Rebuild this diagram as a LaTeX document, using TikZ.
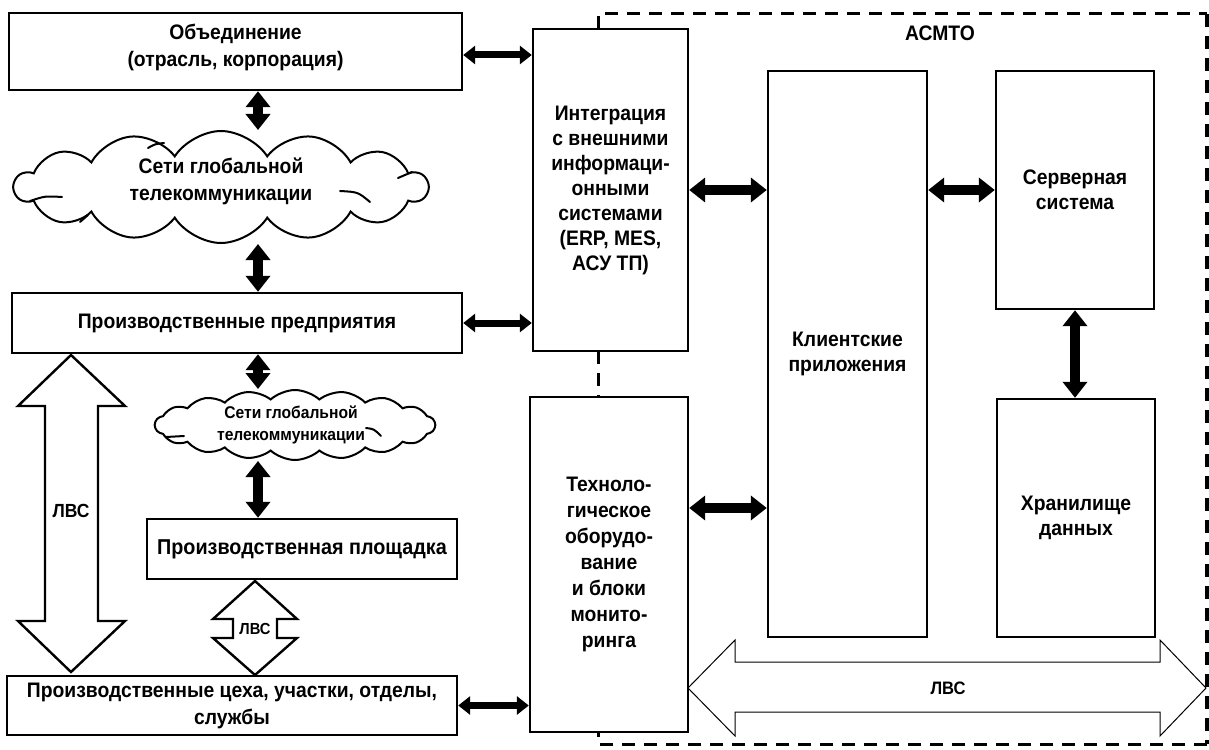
\documentclass[tikz,border=0pt]{standalone}
\usepackage{fontspec}
\setmainfont[FakeStretch=0.92]{Liberation Sans}
\usetikzlibrary{arrows.meta,shapes.symbols,calc}
\begin{document}
\begin{tikzpicture}[x=1pt,y=-1pt,
  box/.style={draw, line width=2.4pt, inner sep=0pt, align=center,
    font=\bfseries\fontsize{21}{25}\selectfont},
  txt/.style={inner sep=0pt, align=center, font=\bfseries\fontsize{21}{27}\selectfont},
  stxt/.style={inner sep=0pt, align=center, font=\bfseries\fontsize{17}{21.5}\selectfont},
  lbl/.style={inner sep=0pt, font=\bfseries\fontsize{19}{20}\selectfont},
  cloudbox/.style={cloud, draw, line width=2pt, cloud ignores aspect, inner sep=0pt},
  curl/.style={line width=2pt, line cap=round},
  bigdbl/.style={line width=10pt, {Triangle[width=24pt,length=16pt]}-{Triangle[width=24pt,length=16pt]}},
  smdbl/.style={line width=7pt, {Triangle[width=18pt,length=12pt]}-{Triangle[width=18pt,length=12pt]}},
  hollow/.style={draw, line width=2.4pt, fill=white, line join=miter},
  thinhollow/.style={draw, line width=1pt, fill=white, line join=miter},
  zone/.style={line width=3pt, dash pattern=on 13pt off 9pt},
  zoneR/.style={line width=4.5pt, dash pattern=on 13pt off 9pt}
]
\useasboundingbox (0,0) rectangle (1209,749);
\fill[white] (0,0) rectangle (1209,749);

% dashed ASMTO zone
\draw[zone] (598,29) -- (598,14) -- (1207,14);
\draw[zoneR] (1207,14) -- (1207,744);
\draw[zone] (1207,744) -- (598,744) -- (598,732);
\draw[zone] (598,351) -- (598,397);
\node[lbl, font=\bfseries\fontsize{21}{22}\selectfont] (asmto) at (940,33) {АСМТО};

% left boxes
\node[box, minimum width=453, minimum height=77] (obj) at (235.5,51.5) {};
\node[txt] (objt) at (235.5,47) {Объединение\\(отрасль, корпорация)};
\node[box, minimum width=450, minimum height=60] (pred) at (237,323)
  {Производственные предприятия};
\node[box, minimum width=310, minimum height=60, font=\bfseries\fontsize{21.5}{25}\selectfont] (plosh) at (302,549)
  {Производственная площадка};
\node[box, minimum width=450, minimum height=59, font=\bfseries\fontsize{21}{27}\selectfont] (tseh) at (232,705.5)
  {Производственные цеха, участки, отделы,\\службы};

% clouds
\node[cloudbox, cloud puffs=14, cloud puff arc=115, minimum width=413, minimum height=112] (cl1) at (221,187) {};
\node[txt] (cl1t) at (221,181) {Сети глобальной\\телекоммуникации};
\draw[curl] (30,201) .. controls (45,196) .. (62,197);
\draw[curl] (148,148) .. controls (155,144) .. (164,143);
\draw[curl] (340,191) .. controls (358,192) .. (370,202);
\draw[curl] (398,178) -- (412,172);
\draw[curl] (80,222) -- (88,215);

\node[cloudbox, cloud puffs=18, cloud puff arc=85, minimum width=280, minimum height=70] (cl2) at (295,425) {};
\node[stxt] (cl2t) at (291,425) {Сети глобальной\\телекоммуникации};
\draw[curl] (166,437) -- (184,436);
\draw[curl] (366,428) .. controls (374,429) .. (381,436);

% right boxes
\node[box, minimum width=155, minimum height=322] (integ) at (610.5,190)
  {Интеграция\\с внешними\\информаци-\\онными\\системами\\(ERP, MES,\\АСУ ТП)};
\node[box, minimum width=158, minimum height=335, font=\bfseries\fontsize{21}{26}\selectfont] (tech) at (609,564.5)
  {Техноло-\\гическое\\оборудо-\\вание\\и блоки\\монито-\\ринга};
\node[box, minimum width=159, minimum height=566] (client) at (847.5,354)
  {Клиентские\\приложения};
\node[box, minimum width=158, minimum height=238] (server) at (1075,190)
  {Серверная\\система};
\node[box, minimum width=158, minimum height=238] (store) at (1076,518)
  {Хранилище\\данных};

% vertical black arrows on the left
\coordinate (vx) at (258,0);
\draw[bigdbl] (obj.south -| vx) -- (vx |- cl1.north);
\draw[bigdbl] (vx |- cl1.south) -- (pred.north -| vx);
\draw[bigdbl] (pred.south -| vx) -- (vx |- cl2.north);
\draw[bigdbl] (vx |- cl2.south) -- (plosh.north -| vx);

% horizontal arrows to integration / tech boxes
\coordinate (ya) at (0,55);
\draw[smdbl] (obj.east |- ya) -- (integ.west |- ya);
\draw[smdbl] (pred.east) -- (pred.east -| integ.west);
\draw[smdbl] (tseh.east) -- (tseh.east -| tech.west);

% arrows inside ASMTO
\draw[bigdbl] (integ.east |- server.west) -- (client.west |- server.west);
\draw[bigdbl] (client.east |- server.west) -- (server.west);
\coordinate (yb) at (0,508);
\draw[bigdbl] (tech.east |- yb) -- (client.west |- yb);
\draw[bigdbl] (server.south) -- (server.south |- store.north);

% big hollow LVS arrow (left)
\draw[hollow] (71,355) -- (125,406) -- (98,406) -- (98,621) -- (125,621) -- (71,672)
  -- (18,621) -- (45,621) -- (45,406) -- (18,406) -- cycle;
\node[lbl] (lvs1) at (71,511) {ЛВС};

% small hollow LVS arrow
\draw[hollow] (255,581) -- (297,619) -- (277,619) -- (277,638) -- (297,638) -- (255,675)
  -- (213,638) -- (233,638) -- (233,619) -- (213,619) -- cycle;
\node[lbl, font=\bfseries\fontsize{16}{17}\selectfont] (lvs2) at (255,629) {ЛВС};

% bottom LVS arrow in ASMTO
\draw[thinhollow] (688,688) -- (735,640) -- (735,662) -- (1160,662) -- (1160,640) -- (1206,688)
  -- (1160,736) -- (1160,712) -- (735,712) -- (735,736) -- cycle;
\node[lbl, font=\bfseries\fontsize{18}{20}\selectfont] (lvs3) at (948,688) {ЛВС};
\end{tikzpicture}
\end{document}
